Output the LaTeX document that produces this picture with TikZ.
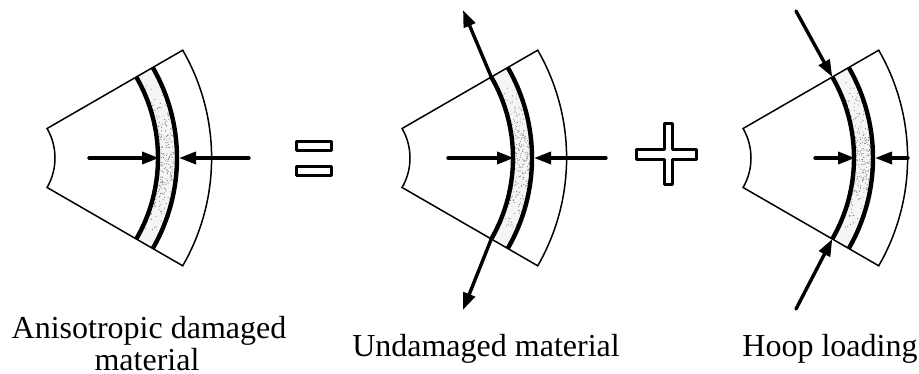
\documentclass[tikz,border=0pt]{standalone}
\usepackage{fontspec}
\setmainfont{Liberation Serif}
\usetikzlibrary{arrows.meta}
\tikzset{
  thinline/.style={line width=1.5pt,line join=miter},
  band/.style={line width=4.4pt,line cap=butt},
  force/.style={line width=3.4pt,-{Triangle[length=17pt,width=12pt]},line cap=round},
  sign/.style={line width=3pt,fill=white,line join=round},
  caption/.style={font=\fontsize{32}{32}\selectfont,inner sep=0pt,anchor=base}
}
\newcommand{\sector}[3]{%
  \begin{scope}[shift={(#1,216)}]
    \fill[black!4] (30:162) -- (30:181) arc[start angle=30,end angle=-30,radius=181pt] -- (-30:162) arc[start angle=-30,end angle=30,radius=162pt] -- cycle;
    \pgfmathsetseed{#2}
    \foreach \i in {1,...,240}{
      \pgfmathsetmacro{\ang}{28*(rnd+rnd-1)}
      \pgfmathsetmacro{\rad}{163+17*rnd}
      \fill[black!60] (\ang:\rad) circle[radius=0.5pt];
    }
    \draw[thinline] (30:59) -- (30:215.6) arc[start angle=30,end angle=-30,radius=215.6pt] -- (-30:59) arc[start angle=-30,end angle=30,radius=59pt] -- cycle;
    \draw[band] (30:162) arc[start angle=30,end angle=-30,radius=162pt];
    \draw[band] (30:181) arc[start angle=30,end angle=-30,radius=181pt];
    \coordinate (#3in) at (0:163);
    \coordinate (#3out) at (0:183);
    \coordinate (#3top) at (30:162);
    \coordinate (#3bot) at (-30:162);
  \end{scope}}
\begin{document}
\begin{tikzpicture}[x=1pt,y=1pt]
\useasboundingbox (0,0) rectangle (919,374);
\sector{-4}{11}{a}
\sector{351}{23}{b}
\sector{692}{37}{c}
% free ends
\coordinate (a1) at (89,216);
\coordinate (a2) at (249,216);
\coordinate (b1) at (448,216);
\coordinate (b2) at (606,216);
\coordinate (bu) at (463,364);
\coordinate (bd) at (463,64);
\coordinate (c1) at (815,216);
\coordinate (c2) at (908,216);
\coordinate (cu) at (796,363);
\coordinate (cd) at (796,65);
% forces
\draw[force] (a1) -- (ain);
\draw[force] (a2) -- (aout);
\draw[force] (b1) -- (bin);
\draw[force] (b2) -- (bout);
\draw[force] (btop) -- (bu);
\draw[force] (bbot) -- (bd);
\draw[force] (c1) -- (cin);
\draw[force] (c2) -- (cout);
\draw[force] (cu) -- (ctop);
\draw[force] (cd) -- (cbot);
% equals
\draw[sign] (296.5,223.5) rectangle (331,232.5);
\draw[sign] (296.5,198.5) rectangle (331,207.5);
% plus
\draw[sign] (664,250) -- (672,250) -- (672,224) -- (696,224) -- (696,214) -- (672,214) -- (672,189) -- (664,189) -- (664,214) -- (636,214) -- (636,224) -- (664,224) -- cycle;
% captions
\node[caption] (capa) at (149,35) {Anisotropic damaged};
\node[caption] (capa2) at (147,3.5) {material};
\node[caption] (capb) at (486,17) {Undamaged material};
\node[caption] (capc) at (830,17) {Hoop loading};
\end{tikzpicture}
\end{document}
